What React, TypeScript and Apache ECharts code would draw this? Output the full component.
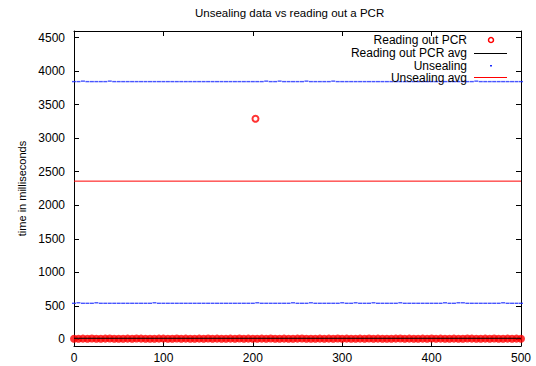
import React, { useEffect, useRef } from 'react';
import * as echarts from 'echarts';

// x position step between stored samples (run index)
const xStep = 5;

const pcrValues = [
  9, 8, 10, 9, 11, 8, 9, 10, 12, 9, 8, 9, 10, 9, 11, 10, 8, 9, 9, 10,
  10, 9, 8, 11, 9, 10, 9, 8, 10, 9, 11, 9, 10, 8, 9, 10, 9, 12, 9, 10,
  8, 9, 10, 9, 11, 9, 8, 10, 9, 9, 10, 11, 9, 8, 9, 10, 9, 10, 8, 11,
  9, 10, 9, 8, 10, 9, 11, 9, 10, 9, 8, 9, 10, 12, 9, 10, 9, 8, 10, 9,
  11, 9, 10, 9, 8, 10, 9, 9, 11, 10, 8, 9, 10, 9, 11, 9, 8, 10, 9, 10, 9,
];
const pcrOutlier = [203, 3290];
const pcrAvg = [15, 15];

const unsealHigh = [
  3845, 3845, 3852, 3845, 3845, 3845, 3845, 3845, 3852, 3845, 3845, 3845, 3845, 3845, 3845, 3845, 3845, 3845, 3845, 3845,
  3845, 3845, 3845, 3845, 3845, 3845, 3845, 3845, 3845, 3845, 3845, 3845, 3845, 3845, 3845, 3845, 3845, 3845, 3845, 3845,
  3845, 3845, 3845, 3852, 3845, 3845, 3852, 3845, 3845, 3845, 3845, 3845, 3852, 3845, 3845, 3845, 3845, 3845, 3852, 3845,
  3845, 3845, 3845, 3845, 3845, 3845, 3845, 3845, 3845, 3845, 3845, 3845, 3845, 3845, 3845, 3845, 3845, 3845, 3845, 3845,
  3845, 3845, 3845, 3845, 3845, 3845, 3845, 3845, 3845, 3845, 3852, 3845, 3845, 3845, 3845, 3845, 3845, 3845, 3845, 3845, 3845,
];
const unsealLow = [
  537, 545, 537, 537, 537, 545, 537, 537, 537, 537, 537, 537, 537, 537, 537, 537, 537, 537, 545, 537,
  537, 537, 537, 537, 537, 537, 537, 537, 537, 537, 537, 537, 537, 537, 537, 537, 537, 537, 537, 537,
  537, 545, 537, 537, 537, 537, 537, 537, 537, 545, 537, 537, 537, 545, 537, 537, 537, 537, 537, 537,
  545, 537, 537, 545, 537, 537, 537, 545, 537, 537, 537, 537, 537, 545, 537, 537, 537, 537, 537, 537,
  537, 537, 537, 545, 537, 537, 545, 545, 537, 537, 537, 537, 537, 537, 537, 537, 545, 537, 537, 537, 537,
];
const unsealAvg = [2360, 2360];

const xRange = [0, 500];
const yRange = [-100, 4600];
const xTicks = [0, 100, 200, 300, 400, 500];
const yTicks = [0, 500, 1000, 1500, 2000, 2500, 3000, 3500, 4000, 4500];
const legendNames = ['Reading out PCR', 'Reading out PCR avg', 'Unsealing', 'Unsealing avg'];

const FONT = '"Liberation Sans", Arial, Helvetica, sans-serif';
const RED = '#ff0000';
const BLUE = '#1a2cff';

export default function App() {
  const ref = useRef<HTMLDivElement>(null);

  useEffect(() => {
    if (!ref.current) return;
    const chart = echarts.init(ref.current, null, { renderer: 'svg' });

    const pcrData: any[] = pcrValues.map((v, i) => [i * xStep, v]);
    pcrData.push({
      value: pcrOutlier,
      symbol: 'emptyCircle',
      symbolSize: 6,
      itemStyle: { borderWidth: 1.5, color: RED },
    });
    const unsealData = [
      ...unsealHigh.map((v, i) => [i * xStep, v]),
      ...unsealLow.map((v, i) => [i * xStep, v]),
    ];

    const axisLine = { show: true, onZero: false, lineStyle: { color: '#000', width: 1 } };
    const tick = { show: true, inside: true, length: 5, lineStyle: { color: '#000' } };
    const labelStyle = { color: '#000', fontSize: 12, fontFamily: FONT, formatter: (v: number) => String(v) };

    // legend (gnuplot style: right-aligned text, sample to the right)
    const rowY = [40, 53.3, 65.7, 77.7];
    const textRight = 467;
    const sx0 = 474;
    const sx1 = 507;
    const legendTexts = legendNames.map((name, i) => ({
      type: 'text',
      x: textRight,
      y: rowY[i],
      z: 100,
      style: {
        text: name, align: 'right', verticalAlign: 'middle', lineHeight: 12,
        fill: '#000', fontSize: 12, fontFamily: FONT,
      },
    }));
    const legendMarks = [
      { type: 'circle', shape: { cx: 491, cy: rowY[0], r: 2.5 }, z: 100, style: { fill: '#fff', stroke: RED, lineWidth: 1.5 } },
      { type: 'line', shape: { x1: sx0, y1: 53.5, x2: sx1, y2: 53.5 }, z: 100, style: { stroke: '#000', lineWidth: 1 } },
      { type: 'rect', shape: { x: 490, y: 65, width: 2, height: 1.4 }, z: 100, style: { fill: BLUE } },
      { type: 'line', shape: { x1: sx0, y1: 77.5, x2: sx1, y2: 77.5 }, z: 100, style: { stroke: RED, lineWidth: 1 } },
    ];

    chart.setOption({
      animation: false,
      backgroundColor: '#fff',
      title: {
        text: 'Unsealing data vs reading out a PCR',
        left: 195,
        top: 7,
        padding: 0,
        textStyle: { color: '#000', fontSize: 11.5, fontWeight: 'normal', fontFamily: FONT },
      },
      graphic: [...legendTexts, ...legendMarks],
      grid: { left: 74, right: 15, top: 31, bottom: 20 },
      xAxis: [
        {
          type: 'value', min: xRange[0], max: xRange[1], interval: 100, position: 'bottom',
          axisLine, axisTick: { ...tick, customValues: xTicks }, splitLine: { show: false },
          axisLabel: { ...labelStyle, margin: 6, customValues: xTicks },
        },
        {
          type: 'value', min: xRange[0], max: xRange[1], interval: 100, position: 'top',
          axisLine, axisTick: { ...tick, customValues: xTicks }, splitLine: { show: false },
          axisLabel: { show: false },
        },
      ],
      yAxis: [
        {
          type: 'value', min: yRange[0], max: yRange[1], position: 'left',
          axisLine, axisTick: { ...tick, customValues: yTicks }, splitLine: { show: false },
          axisLabel: { ...labelStyle, margin: 9, customValues: yTicks },
          name: 'time in milliseconds', nameLocation: 'middle', nameGap: 44,
          nameTextStyle: { color: '#000', fontSize: 11, fontFamily: FONT },
        },
        {
          type: 'value', min: yRange[0], max: yRange[1], position: 'right',
          axisLine, axisTick: { ...tick, customValues: yTicks }, splitLine: { show: false },
          axisLabel: { show: false },
        },
      ],
      series: [
        {
          name: legendNames[0], type: 'scatter', xAxisIndex: 0, yAxisIndex: 0,
          symbol: 'circle', symbolSize: 8, itemStyle: { color: RED },
          data: pcrData, silent: true,
        },
        {
          name: legendNames[1], type: 'line', xAxisIndex: 0, yAxisIndex: 0,
          symbol: 'none', lineStyle: { color: '#000', width: 1 }, itemStyle: { color: '#000' },
          data: [[xRange[0], pcrAvg[0]], [xRange[1], pcrAvg[1]]], silent: true,
        },
        {
          name: legendNames[2], type: 'scatter', xAxisIndex: 0, yAxisIndex: 0,
          symbol: 'rect', symbolSize: [4, 1.4], itemStyle: { color: BLUE },
          data: unsealData, silent: true,
        },
        {
          name: legendNames[3], type: 'line', xAxisIndex: 0, yAxisIndex: 0,
          symbol: 'none', lineStyle: { color: RED, width: 1 }, itemStyle: { color: RED },
          data: [[xRange[0], unsealAvg[0]], [xRange[1], unsealAvg[1]]], silent: true,
        },
      ],
    });

    return () => chart.dispose();
  }, []);

  return (
    <div
      ref={ref}
      style={{ position: 'fixed', left: 0, top: 0, width: 536, height: 366 }}
    />
  );
}
